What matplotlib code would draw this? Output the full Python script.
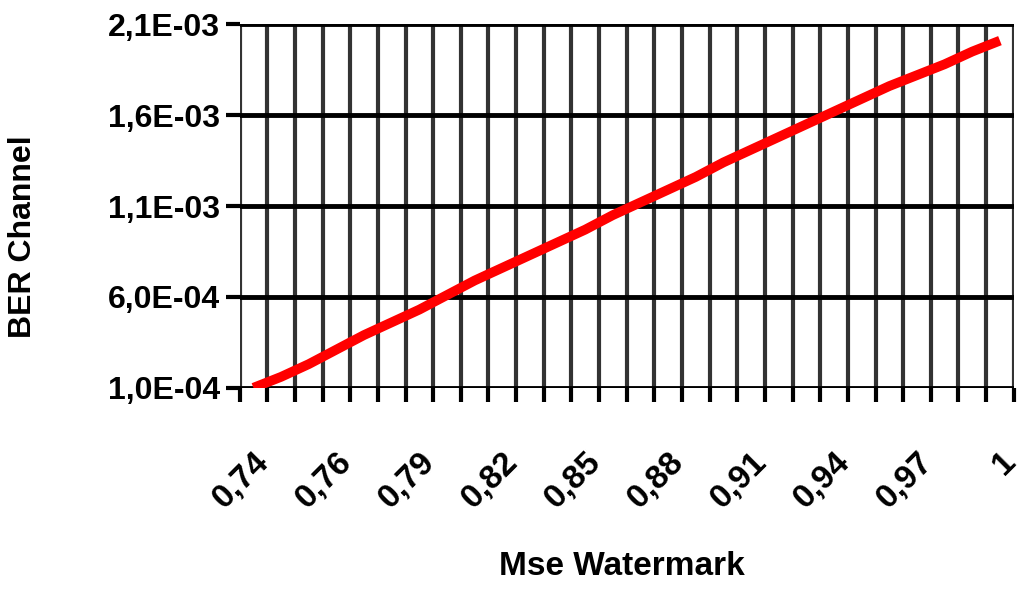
import numpy as np
import matplotlib.pyplot as plt

categories = ["0,74", "0,75", "0,75", "0,76", "0,77", "0,78", "0,79", "0,80", "0,81",
              "0,82", "0,83", "0,84", "0,85", "0,86", "0,87", "0,88", "0,89", "0,90",
              "0,91", "0,92", "0,93", "0,94", "0,95", "0,96", "0,97", "0,98", "0,99", "1"]
ber_channel = [1.0e-4, 1.6e-4, 2.3e-4, 3.1e-4, 3.9e-4, 4.6e-4, 5.3e-4, 6.1e-4, 6.9e-4,
               7.6e-4, 8.3e-4, 9.0e-4, 9.7e-4, 1.05e-3, 1.12e-3, 1.19e-3, 1.26e-3, 1.34e-3,
               1.41e-3, 1.48e-3, 1.55e-3, 1.62e-3, 1.69e-3, 1.76e-3, 1.82e-3, 1.88e-3,
               1.95e-3, 2.01e-3]
y_ticks = [1.0e-4, 6.0e-4, 1.1e-3, 1.6e-3, 2.1e-3]
y_labels = ["1,0E-04", "6,0E-04", "1,1E-03", "1,6E-03", "2,1E-03"]

plt.rcParams['font.family'] = ['Liberation Sans', 'DejaVu Sans']
plt.rcParams['font.weight'] = 'bold'

fig = plt.figure(figsize=(10.24, 5.92), dpi=100)
ax = fig.add_axes([0.234, 0.345, 0.756, 0.614])

x = np.arange(len(categories))
ax.plot(x, ber_channel, color='red', linewidth=7, solid_capstyle='butt')

ax.set_xlim(-0.5, len(categories) - 0.5)
ax.set_ylim(y_ticks[0], y_ticks[-1])
for b in np.arange(-0.5, len(categories), 1.0):
    ax.axvline(b, color='#333333', linewidth=3, zorder=0)
for t in y_ticks:
    ax.axhline(t, color='black', linewidth=3.5, zorder=0)

ax.set_yticks(y_ticks)
ax.set_yticklabels(y_labels, fontsize=23, fontweight='bold')
ax.set_xticks(x[::3])
ax.set_xticklabels(categories[::3], rotation=45, ha='right', rotation_mode='anchor',
                   fontsize=24, fontweight='bold')
ax.set_xticks(np.arange(-0.5, len(categories), 1.0), minor=True)
ax.tick_params(axis='x', which='major', length=0, pad=42)
ax.tick_params(axis='x', which='minor', length=10, width=3)
ax.tick_params(axis='y', length=10, width=3, pad=4)
for s in ax.spines.values():
    s.set_visible(False)

fig.text(0.607, 0.028, "Mse Watermark", fontsize=24, fontweight='bold', ha='center')
fig.text(0.022, 0.6, "BER Channel", fontsize=23, fontweight='bold', rotation=90,
         va='center', ha='center')

fig.savefig("out.png", dpi=100)
